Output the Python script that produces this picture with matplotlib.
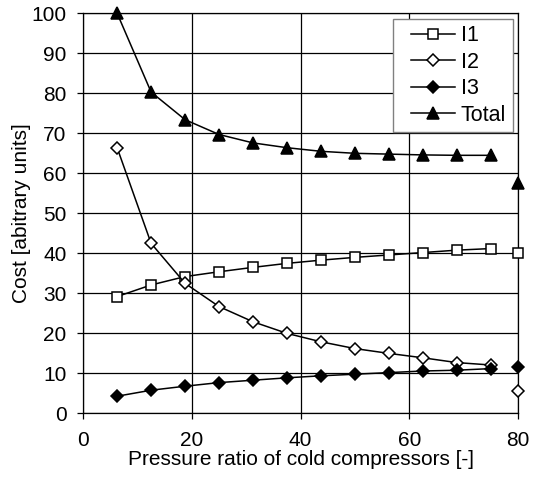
import matplotlib
matplotlib.use("Agg")
import matplotlib.pyplot as plt
from matplotlib.lines import Line2D
from matplotlib.legend_handler import HandlerLine2D

plt.rcParams['font.family'] = ['Liberation Sans', 'DejaVu Sans']

# pressure ratio values
x = [6.25, 12.5, 18.75, 25, 31.25, 37.5, 43.75, 50, 56.25, 62.5, 68.75, 75]
x_end = 80

i1 = [29.2, 32.1, 34.2, 35.4, 36.5, 37.5, 38.3, 39.0, 39.6, 40.2, 40.8, 41.2]
i2 = [66.4, 42.5, 32.5, 26.7, 22.9, 20.0, 17.9, 16.2, 15.0, 13.9, 12.7, 12.1]
i3 = [4.3, 5.8, 6.8, 7.7, 8.3, 8.9, 9.4, 9.8, 10.2, 10.6, 10.8, 11.2]
total = [100.0, 80.3, 73.4, 69.7, 67.6, 66.4, 65.5, 65.0, 64.8, 64.6, 64.5, 64.5]

# separate points at 80
i1_end = 40.0
i2_end = 5.7
i3_end = 11.7
total_end = 57.6

fig = plt.figure(figsize=(5.33, 4.91), dpi=100)
ax = fig.add_axes([0.156, 0.158, 0.816, 0.815])

styles = [
    (i1, i1_end, 's', 'white', 7.5, 'I1'),
    (i2, i2_end, 'D', 'white', 6, 'I2'),
    (i3, i3_end, 'D', 'black', 6, 'I3'),
    (total, total_end, '^', 'black', 8, 'Total'),
]
for ys, yend, m, fc, ms, lab in styles:
    ax.plot(x, ys, color='black', lw=1.1, marker=m, mfc=fc, mec='black',
            ms=ms, mew=1.1, label=lab, zorder=3, clip_on=False)
    ax.plot([x_end], [yend], ls='none', marker=m, mfc=fc, mec='black',
            ms=ms, mew=1.1, zorder=3, clip_on=False)

ax.set_xlim(0, 80)
ax.set_ylim(0, 100)
ax.set_xticks(range(0, 81, 20))
ax.set_yticks(range(0, 101, 10))
ax.grid(True, color='black', lw=0.9)
ax.set_axisbelow(True)
for s in ax.spines.values():
    s.set_linewidth(0.9)
ax.tick_params(direction='out', length=4, width=0.9, labelsize=15)
ax.tick_params(axis='x', pad=9)
ax.tick_params(axis='y', pad=8)

ax.set_xlabel('Pressure ratio of cold compressors [-]', fontsize=15, labelpad=0)
ax.set_ylabel('Cost [abitrary units]', fontsize=15, labelpad=0)

leg = ax.legend(loc='upper right', fontsize=15.5, frameon=True, fancybox=False,
                edgecolor='gray', framealpha=1, handlelength=2.6,
                borderaxespad=0.25, labelspacing=0.26, handletextpad=0.25,
                borderpad=0.3, handler_map={Line2D: HandlerLine2D(xpad=0.55)})
leg.get_frame().set_linewidth(1.0)

fig.savefig('out.png', dpi=100)
